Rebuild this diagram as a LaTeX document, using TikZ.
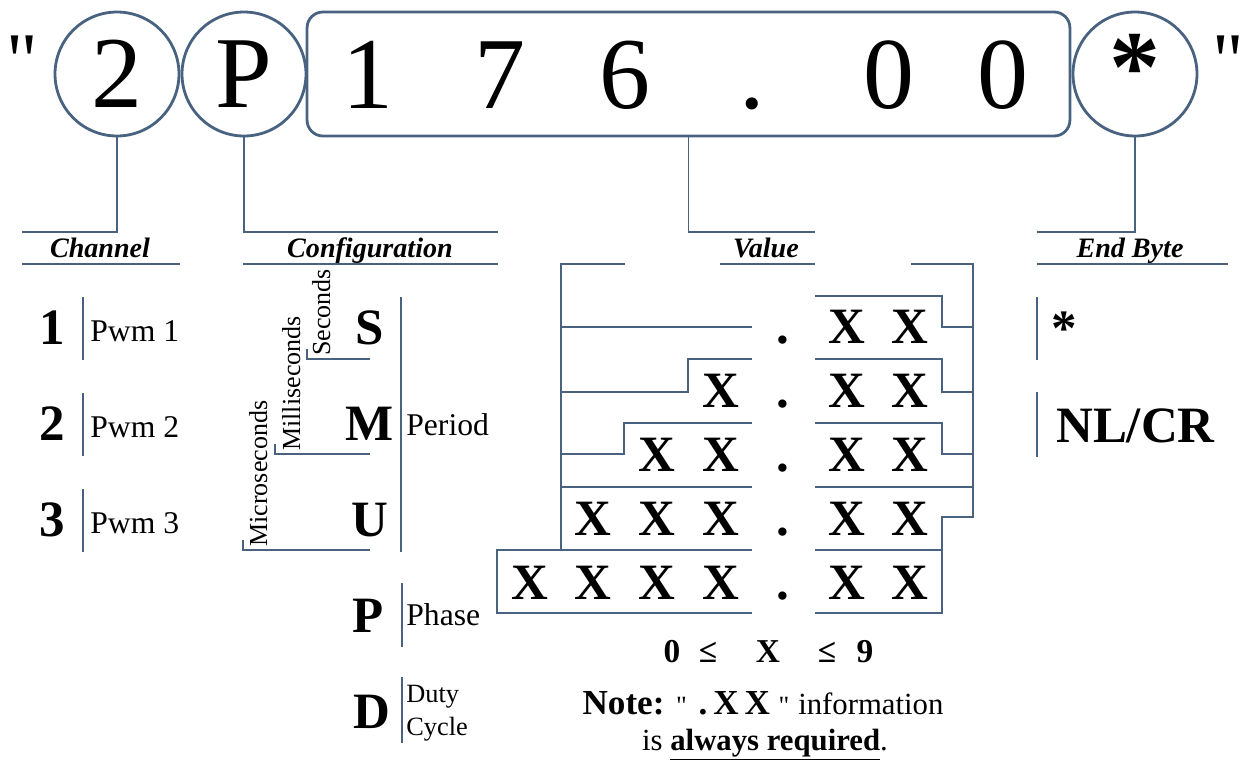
\documentclass[tikz,border=0pt]{standalone}
\usepackage{fontspec}
\setmainfont{Liberation Serif}
\usepackage{xcolor}
\usepackage{tikz}
\usetikzlibrary{positioning}
\definecolor{slate}{RGB}{72,98,128}

\begin{document}
\begin{tikzpicture}[
  x=0.02cm, y=-0.02cm,
  ring/.style={circle, draw=slate, line width=1.6pt, minimum size=2.48cm, inner sep=0pt, font=\fontsize{58}{60}\selectfont},
  frame/.style={rectangle, rounded corners=9pt, draw=slate, line width=1.6pt, minimum width=15.26cm, minimum height=2.48cm},
  big/.style={anchor=base, font=\fontsize{58}{60}\selectfont},
  quot/.style={anchor=base, inner sep=0pt, font=\fontsize{44}{46}\selectfont},
  wire/.style={draw=slate, line width=1.1pt},
  head/.style={anchor=base, font=\fontsize{16}{18}\selectfont\bfseries\itshape},
  key/.style={anchor=base, font=\fontsize{29}{30}\selectfont\bfseries},
  desc/.style={anchor=base west, inner sep=0pt, font=\fontsize{18}{20}\selectfont},
  small/.style={anchor=base west, inner sep=0pt, font=\fontsize{15}{16}\selectfont},
  side/.style={anchor=base west, rotate=90, inner sep=0pt, font=\fontsize{14.8}{16}\selectfont},
  xdig/.style={anchor=base, font=\fontsize{29}{30}\selectfont\bfseries},
  rng/.style={anchor=base, font=\fontsize{19}{20}\selectfont\bfseries}
]
  \useasboundingbox (0,0) rectangle (1248,765);

  % command string
  \node[quot] (qL) at (22,86) {\textquotedbl};
  \node[ring] (chan) at (117,74) {2};
  \node[ring] (cfg) at (244,74) {P};
  \node[frame] (val) at (688.5,74) {};
  \node[ring] (endb) at (1135,74) {\raisebox{7pt}{\bfseries *}};
  \node[quot] (qR) at (1228,86) {\textquotedbl};
  \foreach \px/\ch/\nm in {368/1/d1, 500/7/d2, 625/6/d3, 752/./d4, 889/0/d5, 1003/0/d6}
    \node[big] (\nm) at (\px,108) {\ch};

  % leaders to the headings
  \coordinate (chanend) at (22,232);
  \coordinate (cfgend) at (498,232);
  \coordinate (valend) at (815,232);
  \coordinate (endend) at (1037,232);
  \draw[wire] (chan.south) |- (chanend);
  \draw[wire] (cfg.south) |- (cfgend);
  \draw[wire] (val.south) |- (valend);
  \draw[wire] (endb.south) |- (endend);

  \node[head] (hchan) at (100,257) {Channel};
  \node[head] (hcfg) at (370,257) {Configuration};
  \node[head] (hval) at (766,257) {Value};
  \node[head] (hend) at (1130,257) {End Byte};
  \draw[wire] (22,264) -- (180,264);
  \draw[wire] (243,264) -- (498,264);
  \draw[wire] (720,264) -- (815,264);
  \draw[wire] (1037,264) -- (1228,264);

  % channel
  \foreach \n/\yy in {1/344, 2/440, 3/536} {
    \node[key] (ch\n) at (52,\yy) {\n};
    \node[desc] (pwm\n) at (90,\yy-3) {Pwm \n};
    \draw[wire] (83,\yy-47) -- (83,\yy+16);
  }

  % configuration
  \node[key] (sec) at (370,344) {S};
  \node[key] (mil) at (370,440) {M};
  \node[key] (mic) at (370,536) {U};
  \draw[wire] (307,349) -- (307,359) -- (370,359);
  \draw[wire] (275,444) -- (275,454) -- (370,454);
  \draw[wire] (243,540) -- (243,550) -- (370,550);
  \node[side] (lsec) at (330,356) {Seconds};
  \node[side] (lmil) at (300,451) {Milliseconds};
  \node[side] (lmic) at (267,547) {Microseconds};
  \draw[wire] (401,297) -- (401,552);
  \node[desc] (per) at (406,435) {Period};

  \node[key] (pha) at (368,632) {P};
  \draw[wire] (402,583) -- (402,647);
  \node[desc] (lpha) at (406,625) {Phase};
  \node[key] (dut) at (372,728) {D};
  \draw[wire] (402,677) -- (402,743);
  \node[small] (lduty) at (406,702) {Duty};
  \node[small] (lcyc) at (406,735) {Cycle};

  % value formats
  \foreach \yy [count=\r] in {343,407,471,535,599} {
    \node[xdig] (dot\r) at (783,\yy) {.};
    \node[xdig] (xa\r) at (847,\yy) {X};
    \node[xdig] (xb\r) at (910,\yy) {X};
  }
  \foreach \px/\yy/\nm in {721/407/l2a, 657/471/l3a, 721/471/l3b, 593/535/l4a, 657/535/l4b,
      721/535/l4c, 530/599/l5a, 593/599/l5b, 657/599/l5c, 721/599/l5d}
    \node[xdig] (\nm) at (\px,\yy) {X};

  \draw[wire] (625,264) -- (561,264) -- (561,550);
  \draw[wire] (561,327) -- (752,327);
  \draw[wire] (561,392) -- (688,392) -- (688,359) -- (752,359);
  \draw[wire] (561,454) -- (624,454) -- (624,423) -- (752,423);
  \draw[wire] (561,487) -- (752,487);
  \draw[wire] (752,550) -- (497,550) -- (497,613) -- (752,613);

  \draw[wire] (911,264) -- (973,264) -- (973,517) -- (942,517) -- (942,613) -- (815,613);
  \draw[wire] (815,296) -- (942,296) -- (942,327) -- (973,327);
  \draw[wire] (815,359) -- (942,359) -- (942,392) -- (973,392);
  \draw[wire] (815,423) -- (942,423) -- (942,454) -- (973,454);
  \draw[wire] (815,487) -- (973,487);
  \draw[wire] (815,550) -- (942,550);

  \foreach \px/\ch/\nm in {672/0/r0, 708/≤/r1, 768/X/r2, 827/≤/r3, 865/9/r4}
    \node[rng] (\nm) at (\px,662) {\ch};

  \node[anchor=base, font=\fontsize{20}{22}\selectfont] (note) at (763,714)
    {\textbf{Note:} {\fontsize{15}{16}\selectfont\textquotedbl} \textbf{.\,X\,X} {\fontsize{15}{16}\selectfont\textquotedbl} {\fontsize{17.5}{18}\selectfont information}};
  \node[anchor=base, font=\fontsize{17.5}{19}\selectfont] (req) at (765,750)
    {is \underline{\textbf{always required}}.};

  % end byte
  \node[key, anchor=base west] (star) at (1045,345) {*};
  \node[key, anchor=base west] (nlcr) at (1050,442) {NL/CR};
  \draw[wire] (1037,297) -- (1037,360);
  \draw[wire] (1037,392) -- (1037,457);
\end{tikzpicture}
\end{document}
